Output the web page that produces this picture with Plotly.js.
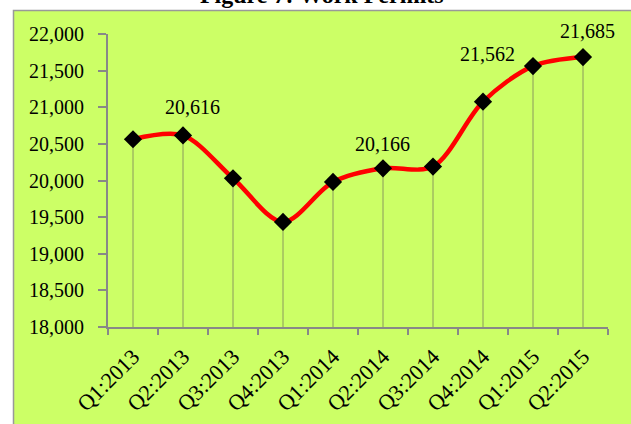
<!DOCTYPE html>
<html>
<head>
<meta charset="utf-8">
<script src="https://cdn.plot.ly/plotly-3.0.1.min.js"></script>
<style>html,body{margin:0;padding:0;background:#fff;}#chart{width:631px;height:424px;}</style>
</head>
<body>
<div id="chart"></div>
<script>
const quarters = ["Q1:2013","Q2:2013","Q3:2013","Q4:2013","Q1:2014","Q2:2014","Q3:2014","Q4:2014","Q1:2015","Q2:2015"];
const permits = [20563, 20616, 20030, 19434, 19980, 20166, 20190, 21076, 21562, 21685];
const labelled = ["Q2:2013","Q2:2014","Q1:2015","Q2:2015"];
const labelShiftX = [9, -1, -46, 4];
const labelShiftY = [15, 11, -1, 13];
const yTicks = [18000,18500,19000,19500,20000,20500,21000,21500,22000];
const axisMin = 18000;

const font = "Liberation Serif, Times New Roman, serif";

const drops = {
  x: quarters,
  y: permits,
  type: "scatter",
  mode: "markers",
  marker: {size: 0.1, color: "rgba(0,0,0,0)"},
  error_y: {
    type: "data", symmetric: false,
    array: permits.map(() => 0),
    arrayminus: permits.map(v => v - axisMin),
    width: 0, thickness: 1, color: "#8a9a5c"
  },
  hoverinfo: "skip",
  showlegend: false
};

const line = {
  x: quarters,
  y: permits,
  type: "scatter",
  mode: "lines+markers",
  line: {color: "#ff0000", width: 4.5, shape: "spline", smoothing: 0.9},
  marker: {symbol: "diamond", size: 14, color: "#000000"},
  showlegend: false
};

const annotations = labelled.map((q, i) => {
  const idx = quarters.indexOf(q);
  return {
    x: q, y: permits[idx], xref: "x", yref: "y",
    text: permits[idx].toLocaleString("en-US"),
    showarrow: false, yanchor: "bottom", xanchor: "center",
    xshift: labelShiftX[i], yshift: labelShiftY[i],
    font: {family: font, size: 20, color: "#000"}
  };
});

const layout = {
  width: 631, height: 424,
  margin: {l: 108, r: 23, t: 34, b: 97, pad: 0},
  paper_bgcolor: "#ffffff",
  plot_bgcolor: "rgba(0,0,0,0)",
  title: {
    text: "<b>Figure 7: Work Permits</b>",
    font: {family: font, size: 24, color: "#000"},
    x: 0.51, xanchor: "center",
    yref: "container", y: 1 - 3/424, yanchor: "bottom"
  },
  shapes: [{
    type: "rect", xref: "paper", yref: "paper", layer: "below",
    x0: (13.5 - 108) / 500, x1: 1.1,
    y0: -0.4, y1: (327 - 10.5) / 293,
    fillcolor: "#ccff66",
    line: {color: "#999999", width: 1.5}
  }],
  xaxis: {
    type: "category",
    tickmode: "array", tickvals: quarters, ticktext: quarters,
    tickson: "boundaries",
    ticks: "outside", ticklen: 6, tickcolor: "#888888", tickwidth: 2,
    ticklabelstandoff: 6,
    showline: true, linecolor: "#888888", linewidth: 2,
    showgrid: false, zeroline: false,
    tickangle: -45,
    tickfont: {family: font, size: 22, color: "#000"},
    range: [-0.5, quarters.length - 0.5],
    fixedrange: true
  },
  yaxis: {
    range: [18000, 22000],
    tickmode: "array", tickvals: yTicks,
    tickformat: ",d",
    ticks: "outside", ticklen: 8, tickcolor: "#888888", tickwidth: 2,
    ticklabelstandoff: 10,
    showline: true, linecolor: "#888888", linewidth: 2,
    showgrid: false, zeroline: false,
    tickfont: {family: font, size: 20, color: "#000"},
    fixedrange: true
  },
  annotations: annotations
};

Plotly.newPlot("chart", [drops, line], layout, {displayModeBar: false, staticPlot: true});
</script>
</body>
</html>
